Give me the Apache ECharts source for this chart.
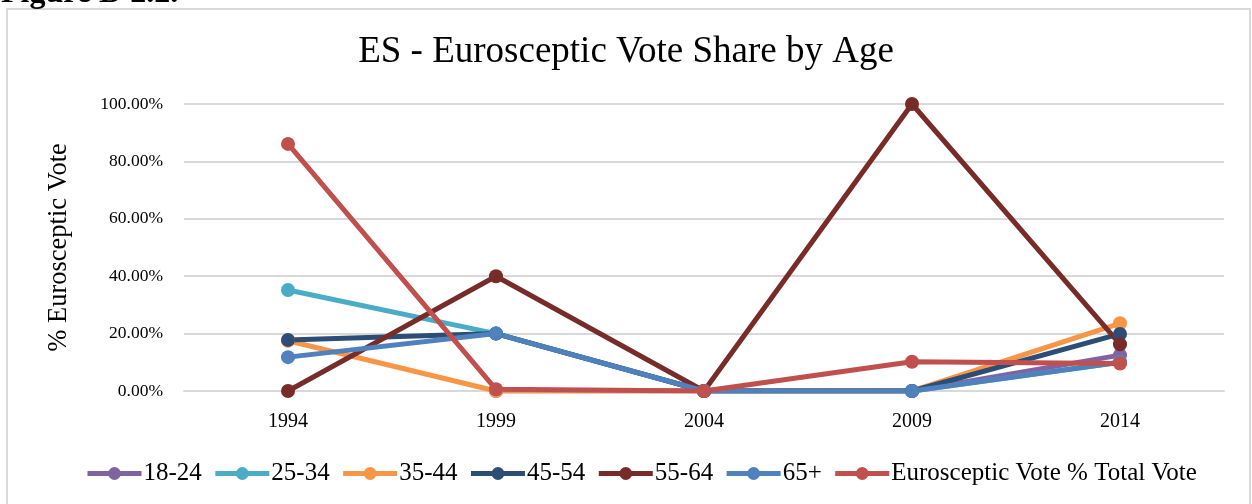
<!DOCTYPE html>
<html>
<head>
<meta charset="utf-8">
<title>ES - Eurosceptic Vote Share by Age</title>
<script src="https://cdn.jsdelivr.net/npm/echarts@6/dist/echarts.min.js"></script>
<style>
  html, body { margin: 0; padding: 0; background: #fff; }
  #chart { width: 1252px; height: 504px; }
</style>
</head>
<body>
<div id="chart"></div>
<script>
// Election years
const years = ['1994', '1999', '2004', '2009', '2014'];

// Eurosceptic vote share by age band (fractions of 1); null = no value
const age18to24 = [null, 0, 0, 0, 0.125];
const age25to34 = [0.352, 0.20, 0, 0, 0.10];
const age35to44 = [0.175, 0, 0, 0, 0.236];
const age45to54 = [0.178, 0.20, 0, 0, 0.199];
const age55to64 = [0, 0.40, 0, 1.00, 0.163];
const age65plus = [0.118, 0.20, 0, 0, 0.10];
const totalVote = [0.861, 0.006, 0, 0.102, 0.096];

// Y axis ticks
const yTicks = [0, 0.2, 0.4, 0.6, 0.8, 1.0];

const seriesDefs = [
  { name: '18-24', data: age18to24, color: '#8064A2' },
  { name: '25-34', data: age25to34, color: '#4BACC6' },
  { name: '35-44', data: age35to44, color: '#F79646' },
  { name: '45-54', data: age45to54, color: '#2C4D75' },
  { name: '55-64', data: age55to64, color: '#772C2A' },
  { name: '65+', data: age65plus, color: '#4F81BD' },
  { name: 'Eurosceptic Vote % Total Vote', data: totalVote, color: '#C0504D' }
];

const serif = '"Liberation Serif", "DejaVu Serif", serif';

const chart = echarts.init(document.getElementById('chart'), null, { renderer: 'canvas' });

chart.setOption({
  animation: false,
  backgroundColor: '#ffffff',
  textStyle: { fontFamily: serif },
  graphic: [
    {
      type: 'rect',
      shape: { x: 7, y: 9, width: 1243, height: 510 },
      style: { fill: 'none', stroke: '#D9D9D9', lineWidth: 2 },
      silent: true
    },
    {
      type: 'text',
      x: 1,
      y: 10,
      style: {
        text: 'Figure D 2.2.',
        font: 'bold 32px ' + serif,
        fill: '#000',
        align: 'left',
        verticalAlign: 'bottom'
      },
      silent: true
    }
  ],
  title: {
    text: 'ES - Eurosceptic Vote Share by Age',
    left: 'center',
    top: 29,
    textStyle: { fontFamily: serif, fontSize: 37, fontWeight: 'normal', color: '#000' }
  },
  legend: {
    bottom: 13,
    left: 80,
    itemWidth: 54,
    itemHeight: 16,
    itemGap: 11,
    lineStyle: { width: 5 },
    textStyle: { fontFamily: serif, fontSize: 25, color: '#000', padding: [0, 0, 0, -3] },
    data: seriesDefs.map(s => s.name)
  },
  grid: { left: 184, right: 28, top: 104, bottom: 113 },
  xAxis: {
    type: 'category',
    data: years,
    boundaryGap: true,
    axisLine: { show: true, lineStyle: { color: '#D9D9D9', width: 2 } },
    axisTick: { show: false },
    axisLabel: { fontFamily: serif, fontSize: 20, color: '#000', margin: 21 }
  },
  yAxis: {
    type: 'value',
    min: yTicks[0],
    max: yTicks[yTicks.length - 1],
    interval: yTicks[1] - yTicks[0],
    name: '% Eurosceptic Vote',
    nameLocation: 'middle',
    nameGap: 111,
    nameRotate: 90,
    nameTextStyle: { fontFamily: serif, fontSize: 26.5, color: '#000' },
    axisLine: { show: false },
    axisTick: { show: false },
    splitLine: { lineStyle: { color: '#D9D9D9', width: 2 } },
    axisLabel: {
      fontFamily: serif,
      fontSize: 17.5,
      color: '#000',
      margin: 21,
      formatter: v => (v * 100).toFixed(2) + '%'
    }
  },
  series: seriesDefs.map(s => ({
    name: s.name,
    type: 'line',
    data: s.data,
    symbol: 'circle',
    symbolSize: 14,
    showSymbol: true,
    lineStyle: { width: 5, color: s.color },
    itemStyle: { color: s.color },
    emphasis: { disabled: true }
  }))
});
</script>
</body>
</html>
